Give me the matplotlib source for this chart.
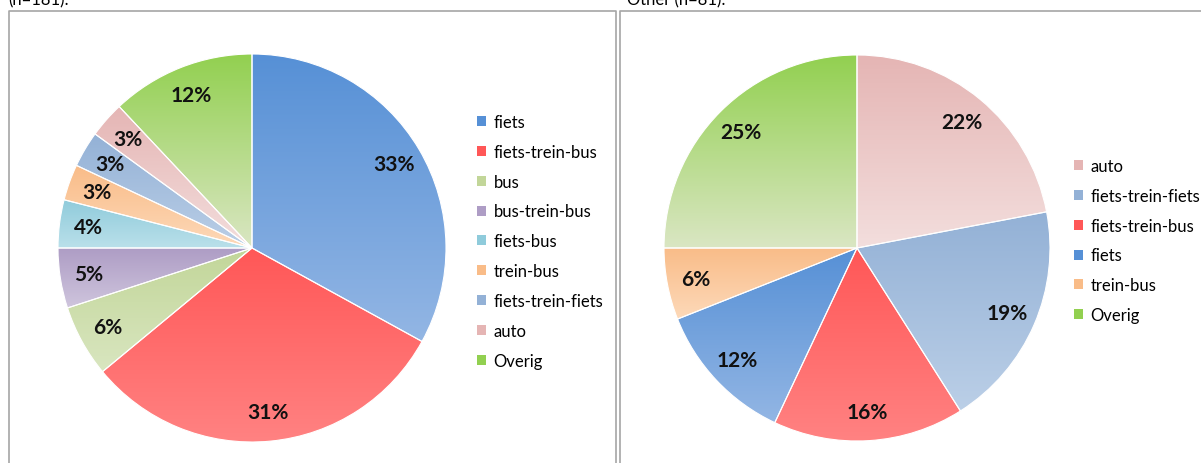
import numpy as np
import matplotlib
matplotlib.use("Agg")
import matplotlib.pyplot as plt
from matplotlib.colors import LinearSegmentedColormap
from matplotlib.patches import Patch
from matplotlib.lines import Line2D

plt.rcParams['font.family'] = ['Lato', 'DejaVu Sans']

# data
left_title = "(n=181):"
left_labels = ["fiets", "fiets-trein-bus", "bus", "bus-trein-bus", "fiets-bus",
               "trein-bus", "fiets-trein-fiets", "auto", "Overig"]
left_values = [33, 31, 6, 5, 4, 3, 3, 3, 12]

right_title = "Other (n=81):"
right_labels = ["auto", "fiets-trein-fiets", "fiets-trein-bus", "fiets", "trein-bus", "Overig"]
right_values = [22, 19, 16, 12, 6, 25]

# gradient colours per category (top, bottom)
colors = {
    "fiets": ("#5690D6", "#93B6E4"),
    "fiets-trein-bus": ("#FF5757", "#FF8282"),
    "bus": ("#C2D699", "#D9E6C0"),
    "bus-trein-bus": ("#AE9DC5", "#CFC5DD"),
    "fiets-bus": ("#8FCBDB", "#BAE0EA"),
    "trein-bus": ("#F9BC88", "#FDD9B9"),
    "fiets-trein-fiets": ("#93B1D6", "#BBCFE7"),
    "auto": ("#E5B5B4", "#F3DEDD"),
    "Overig": ("#92D050", "#DAE6C3"),
}

W, H = 1201, 464
fig = plt.figure(figsize=(W / 100, H / 100), dpi=100)


def draw_pie(cx, cy, r, labels, values):
    ax = fig.add_axes([(cx - r) / W, (H - cy - r) / H, 2 * r / W, 2 * r / H])
    wedges, texts, autotexts = ax.pie(
        values, startangle=90, counterclock=False, autopct='%1.0f%%',
        pctdistance=0.85, wedgeprops=dict(linewidth=0.8, edgecolor='white'),
        textprops=dict(fontsize=15, fontweight='bold', color='#111111'))
    for w, lab in zip(wedges, labels):
        top, bot = colors[lab]
        cmap = LinearSegmentedColormap.from_list(lab, [top, bot])
        bb = w.get_path().get_extents(w.get_patch_transform())
        grad = np.linspace(0, 1, 256).reshape(-1, 1)
        im = ax.imshow(grad, cmap=cmap, aspect='auto', origin='upper',
                       extent=[bb.x0, bb.x1, bb.y0, bb.y1], zorder=0)
        im.set_clip_path(w)
        w.set_facecolor('none')
    ax.set_xlim(-1, 1)
    ax.set_ylim(-1, 1)
    ax.axis('off')
    return ax


draw_pie(252, 249, 194, left_labels, left_values)
draw_pie(857, 249, 193, right_labels, right_values)


def add_legend(x, y, labels):
    handles = [Patch(facecolor=colors[l][0], edgecolor='none') for l in labels]
    fig.legend(handles, labels, loc='upper left', bbox_to_anchor=(x / W, 1 - y / H),
               frameon=False, fontsize=12, handlelength=0.55, handleheight=0.55,
               handletextpad=0.45, labelspacing=0.83, borderaxespad=0, borderpad=0)


add_legend(477, 115, left_labels)
add_legend(1074, 159, right_labels)

# panel borders
for xs, ys in [([9, 9, 616, 616], [470, 12, 12, 470]),
               ([620, 620, 1210], [470, 12, 12])]:
    fig.add_artist(Line2D([v / W for v in xs], [1 - v / H for v in ys],
                          color='#A6A6A6', linewidth=1.2))

fig.text(8 / W, 1 - 5 / H, left_title, fontsize=12, va='baseline')
fig.text(627 / W, 1 - 5 / H, right_title, fontsize=12, va='baseline')

fig.savefig("out.png", dpi=100, facecolor='white')
